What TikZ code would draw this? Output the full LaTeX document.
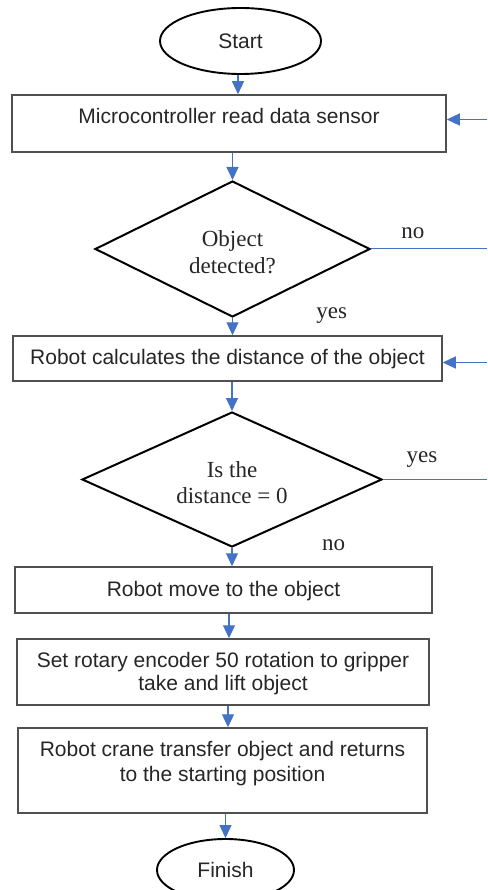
\documentclass[tikz,border=0pt]{standalone}
\usepackage{fontspec}
\setmainfont{Liberation Serif}
\setsansfont{Liberation Sans}
\usetikzlibrary{shapes.geometric,arrows.meta}
\definecolor{flowblue}{HTML}{4472C4}
\definecolor{boxgray}{HTML}{505050}
\tikzset{
  boxnode/.style={draw=boxgray, line width=1.5pt, rectangle, inner sep=0pt,
    font=\sffamily\fontsize{21pt}{24pt}\selectfont, align=center, text=black!85},
  termnode/.style={draw=black, line width=1.9pt, ellipse, inner sep=0pt,
    font=\sffamily\fontsize{21pt}{24pt}\selectfont, text=black!85},
  decnode/.style={draw=black, line width=2pt, diamond, shape aspect=2, inner sep=0pt,
    font=\fontsize{23pt}{26.7pt}\selectfont, align=center, text=black!85,
    text height=48.5pt, text depth=0pt},
  lbl/.style={font=\fontsize{23pt}{26pt}\selectfont, anchor=base, text=black!85, inner sep=0pt},
  flow/.style={draw=flowblue, line width=1.2pt, -{Triangle[length=13pt,width=12pt]}},
  branch/.style={draw=flowblue, line width=1pt}
}
\begin{document}
\begin{tikzpicture}[x=1pt,y=-1pt]
\useasboundingbox (0,0) rectangle (487,890);
\clip (0,0) rectangle (487,890);

\node[termnode, minimum width=161pt, minimum height=66pt, text height=16pt, text depth=0pt] (start) at (240.5,41) {Start};
\node[boxnode, minimum width=434pt, minimum height=57pt, text height=15pt, text depth=14pt] (b1) at (229,123.5) {Microcontroller read data sensor};
\node[decnode, minimum width=275pt, minimum height=136pt] (d1) at (232.5,249) {Object\\detected?};
\node[boxnode, minimum width=429pt, minimum height=45pt, text height=15pt, text depth=3pt] (b2) at (227.5,358.5) {Robot calculates the distance of the object};
\node[decnode, minimum width=300pt, minimum height=135pt] (d2) at (232,479.5) {Is the\\distance = 0};
\node[boxnode, minimum width=417pt, minimum height=46pt, text height=15pt, text depth=2pt] (b3) at (223.5,590) {Robot move to the object};
\node[boxnode, minimum width=412pt, minimum height=66pt, text depth=1pt,
  font=\sffamily\fontsize{21pt}{22.5pt}\selectfont] (b4) at (223,672) {Set rotary encoder 50 rotation to gripper\\take and lift object};
\node[boxnode, minimum width=409pt, minimum height=85pt, text depth=17.5pt,
  font=\sffamily\fontsize{21pt}{25pt}\selectfont] (b5) at (222.5,770.5) {Robot crane transfer object and returns\\to the starting position};
\node[termnode, minimum width=137pt, minimum height=62pt] (fin) at (225.5,870) {Finish};

% labels
\node[lbl] (no1) at (412.8,238.5) {no};
\node[lbl] (yes1) at (331.7,318.3) {yes};
\node[lbl] (yes2) at (422,462.7) {yes};
\node[lbl] (no2) at (333.7,550) {no};

% right-edge coordinates
\coordinate (r1) at (487,119.5);
\coordinate (r2) at (487,362.5);
\coordinate (e1) at (487,249);
\coordinate (e2) at (487,479.5);

% main flow
\draw[flow] ([xshift=-2.5pt]start.south) -- ([xshift=-2.5pt]start.south |- b1.north);
\draw[flow] (b1.south -| d1.north) -- (d1.north);
\draw[flow] (d1.south) -- (d1.south |- b2.north);
\draw[flow] (b2.south -| d2.north) -- (d2.north);
\draw[flow] (d2.south) -- (d2.south |- b3.north);
\draw[flow] ([xshift=5.5pt]b3.south) -- ([xshift=5.5pt]b3.south |- b4.north);
\draw[flow] ([xshift=5pt]b4.south) -- ([xshift=5pt]b4.south |- b5.north);
\draw[flow] (b5.south -| fin.north) -- (fin.north);

% branches to the right edge
\draw[branch] (d1.east) -- (e1);
\draw[branch] (d2.east) -- (e2);
\draw[flow] (r1) -- (r1 -| b1.east);
\draw[flow] (r2) -- (r2 -| b2.east);
\end{tikzpicture}
\end{document}
